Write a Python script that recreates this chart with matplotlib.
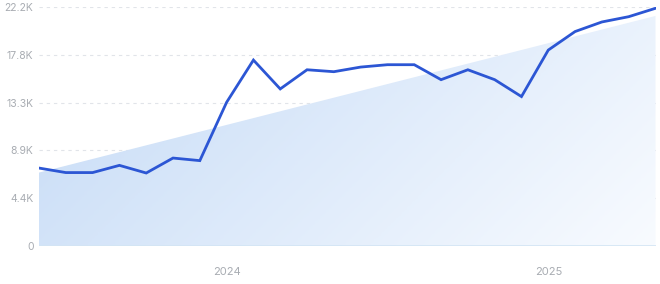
import matplotlib
matplotlib.use("Agg")
import matplotlib.pyplot as plt
import numpy as np
from matplotlib.colors import LinearSegmentedColormap
from matplotlib.patches import Polygon

months = ["2023-06", "2023-07", "2023-08", "2023-09", "2023-10", "2023-11",
          "2023-12", "2024-01", "2024-02", "2024-03", "2024-04", "2024-05",
          "2024-06", "2024-07", "2024-08", "2024-09", "2024-10", "2024-11",
          "2024-12", "2025-01", "2025-02", "2025-03", "2025-04", "2025-05"]
values = [7240, 6820, 6820, 7490, 6780, 8170, 7930, 13350, 17270, 14590,
          16370, 16190, 16620, 16840, 16840, 15450, 16370, 15450, 13880,
          18200, 19920, 20810, 21300, 22080]
trend_start = 6820
trend_end = 21370
y_ticks = [0, 4440, 8880, 13320, 17760, 22200]
y_labels = ["0", "4.4K", "8.9K", "13.3K", "17.8K", "22.2K"]
x_tick_months = ["2024-01", "2025-01"]
x_tick_labels = ["2024", "2025"]

plt.rcParams['font.family'] = ['Inter', 'DejaVu Sans']

fig = plt.figure(figsize=(6.6, 2.84), dpi=100)
ax = fig.add_axes([39/660, 1-246/284, (655.5-39)/660, (246-7)/284])

x = np.arange(len(months))
n = len(months) - 1
ax.set_xlim(0, n)
ax.set_ylim(0, 22200)

# gradient-filled trend area
cmap = LinearSegmentedColormap.from_list("g", ["#c4daf6", "#f8fbff"])
W, H = 400, 200
xx, yy = np.meshgrid(np.linspace(0, 1, W), np.linspace(1, 0, H))
grad = (xx * 617 + (1 - yy) * 239) / (617 + 239)
im = ax.imshow(grad, extent=[0, n, 0, 22200], origin="upper", aspect="auto",
               cmap=cmap, vmin=0, vmax=1, zorder=1)
poly = Polygon([[0, 0], [0, trend_start], [n, trend_end], [n, 0]],
               closed=True, transform=ax.transData, facecolor="none", edgecolor="none")
ax.add_patch(poly)
im.set_clip_path(poly)

for t in y_ticks[1:]:
    ax.axhline(t, color="#e1e4e9", lw=0.8, ls=(0, (3, 3.5)), zorder=0.5)

ax.axhline(0, color="#d3e5f4", lw=1.2, zorder=2)

ax.plot(x, values, color="#2c56d4", lw=2, zorder=3, solid_joinstyle="miter")

for s in ax.spines.values():
    s.set_visible(False)
ax.set_yticks(y_ticks)
ax.set_yticklabels(y_labels)
ax.set_xticks([months.index(m) for m in x_tick_months])
ax.set_xticklabels(x_tick_labels)
ax.tick_params(axis="y", length=0, pad=4, labelsize=7.5, labelcolor="#a8acb2")
ax.tick_params(axis="x", length=0, pad=15, labelsize=8, labelcolor="#a8acb2")

fig.savefig("out.png", dpi=100)
